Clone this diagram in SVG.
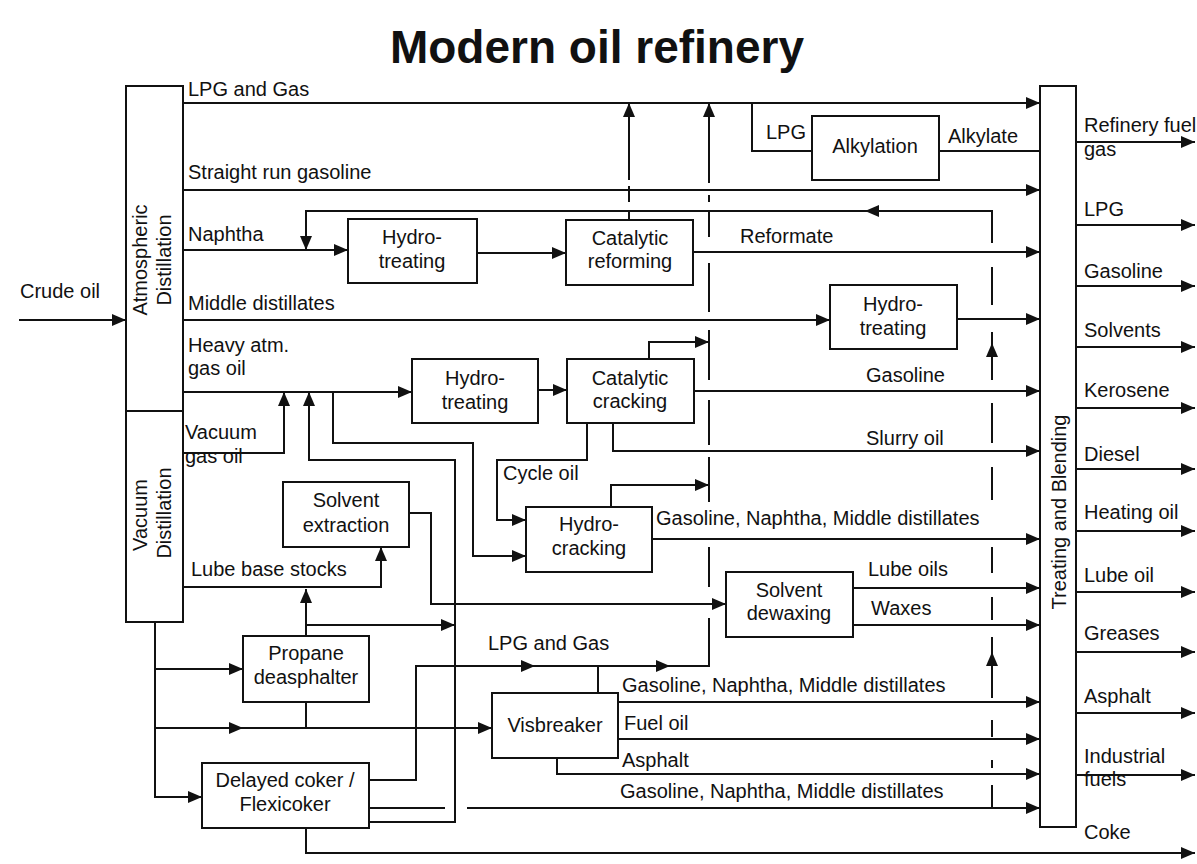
<svg xmlns="http://www.w3.org/2000/svg" width="1197" height="864" viewBox="0 0 1197 864">
<defs>
<marker id="ah" viewBox="0 0 14 12" refX="14" refY="6" markerWidth="14" markerHeight="12" markerUnits="userSpaceOnUse" orient="auto">
<path d="M0,0 L14,6 L0,12 z" fill="#111"/>
</marker>
<style>
.c{fill:none;stroke:#111;stroke-width:2}
.a{marker-end:url(#ah)}
.box{fill:#fff;stroke:#111;stroke-width:2}
text{font-family:"Liberation Sans",Arial,Helvetica,sans-serif;font-size:20px;fill:#111}
.m{text-anchor:middle}
.title{font-size:46px;font-weight:bold}
</style>
</defs>
<rect width="1197" height="864" fill="#fff"/>
<text class="title m" x="597" y="63">Modern oil refinery</text>

<g id="connectors">
<path class="c a" d="M19,320 H126"/>
<path class="c a" d="M183,103 H1040"/>
<path class="c a" d="M183,190 H1040"/>
<path class="c a" d="M183,250 H348"/>
<path class="c a" d="M992,243 V211 H865"/>
<path class="c a" d="M872,211 H306 V250"/>
<path class="c a" d="M477,253 H566"/>
<path class="c a" d="M693,252 H1040"/>
<path class="c a" d="M629,180 V103"/>
<path class="c" d="M629,186 V202 M629,212 V220"/>
<path class="c" d="M752,103 V151 H812"/>
<path class="c" d="M939,151 H1040"/>
<path class="c a" d="M183,320 H830"/>
<path class="c a" d="M957,319 H1040"/>
<path class="c a" d="M183,392 H412"/>
<path class="c a" d="M183,453 H284 V392"/>
<path class="c a" d="M369,822 H455 V460 H309 V392"/>
<path class="c a" d="M333,392 V443 H473 V556 H526"/>
<path class="c a" d="M538,390 H567"/>
<path class="c a" d="M694,391 H1040"/>
<path class="c a" d="M649,359 V342 H709"/>
<path class="c a" d="M587,423 V460 H497 V520 H526"/>
<path class="c a" d="M613,423 V451 H1040"/>
<path class="c a" d="M611,507 V485 H709"/>
<path class="c a" d="M652,539 H1040"/>
<path class="c a" d="M183,587 H381 V547"/>
<path class="c a" d="M409,513 H431 V604 H726"/>
<path class="c a" d="M853,588 H1040"/>
<path class="c a" d="M853,625 H1040"/>
<path class="c a" d="M155,622 V797 H202"/>
<path class="c a" d="M155,669 H243"/>
<path class="c a" d="M155,728 H243"/>
<path class="c a" d="M236,728 H492"/>
<path class="c a" d="M306,636 V589"/>
<path class="c a" d="M306,625 H455"/>
<path class="c" d="M306,702 V728"/>
<path class="c a" d="M369,780 H416 V666 H535"/>
<path class="c a" d="M528,666 H670"/>
<path class="c" d="M664,666 H709 V618"/>
<path class="c a" d="M709,183 V103"/>
<path class="c" d="M709,195 V202 M709,210 V237 M709,263 V312 M709,330 V380 M709,400 V445 M709,457 V502 M709,547 V587"/>
<path class="c" d="M992,267 V305 M992,332 V350"/>
<path class="c a" d="M992,380 V343"/>
<path class="c" d="M992,403 V443 M992,467 V500 M992,547 V573 M992,597 V620 M992,637 V656"/>
<path class="c a" d="M992,698 V652"/>
<path class="c" d="M992,720 V737 M992,760 V768 M992,785 V808"/>
<path class="c" d="M369,808 H445"/>
<path class="c a" d="M467,808 H1040"/>
<path class="c" d="M598,693 V666"/>
<path class="c a" d="M618,702 H1040"/>
<path class="c a" d="M618,739 H1040"/>
<path class="c a" d="M557,758 V774 H1040"/>
<path class="c a" d="M306,828 V853 H1195"/>
<path class="c a" d="M1076,142 H1195"/>
<path class="c a" d="M1076,225 H1195"/>
<path class="c a" d="M1076,286 H1195"/>
<path class="c a" d="M1076,347 H1195"/>
<path class="c a" d="M1076,408 H1195"/>
<path class="c a" d="M1076,469 H1195"/>
<path class="c a" d="M1076,531 H1195"/>
<path class="c a" d="M1076,592 H1195"/>
<path class="c a" d="M1076,652 H1195"/>
<path class="c a" d="M1076,713 H1195"/>
<path class="c a" d="M1076,775 H1195"/>
</g>

<g id="atmospheric-distillation">
<rect class="box" x="126" y="86" width="57" height="325"/>
<text class="m" transform="translate(147,260) rotate(-90)">Atmospheric</text>
<text class="m" transform="translate(171,260) rotate(-90)">Distillation</text>
</g>
<g id="vacuum-distillation">
<rect class="box" x="126" y="411" width="57" height="211"/>
<text class="m" transform="translate(147,515) rotate(-90)">Vacuum</text>
<text class="m" transform="translate(171,513) rotate(-90)">Distillation</text>
</g>
<g id="treating-blending">
<rect class="box" x="1040" y="86" width="36" height="741"/>
<text class="m" transform="translate(1066,512) rotate(-90)">Treating and Blending</text>
</g>
<g id="hydrotreating-1">
<rect class="box" x="348" y="219" width="129" height="64"/>
<text class="m" x="412" y="244">Hydro-</text>
<text class="m" x="412" y="268">treating</text>
</g>
<g id="catalytic-reforming">
<rect class="box" x="566" y="220" width="127" height="65"/>
<text class="m" x="630" y="245">Catalytic</text>
<text class="m" x="630" y="268">reforming</text>
</g>
<g id="alkylation">
<rect class="box" x="812" y="116" width="127" height="64"/>
<text class="m" x="875" y="153">Alkylation</text>
</g>
<g id="hydrotreating-3">
<rect class="box" x="830" y="285" width="127" height="64"/>
<text class="m" x="893" y="311">Hydro-</text>
<text class="m" x="893" y="335">treating</text>
</g>
<g id="hydrotreating-2">
<rect class="box" x="412" y="359" width="126" height="64"/>
<text class="m" x="475" y="385">Hydro-</text>
<text class="m" x="475" y="409">treating</text>
</g>
<g id="catalytic-cracking">
<rect class="box" x="567" y="359" width="127" height="64"/>
<text class="m" x="630" y="385">Catalytic</text>
<text class="m" x="630" y="408">cracking</text>
</g>
<g id="hydrocracking">
<rect class="box" x="526" y="507" width="126" height="65"/>
<text class="m" x="589" y="531">Hydro-</text>
<text class="m" x="589" y="555">cracking</text>
</g>
<g id="solvent-extraction">
<rect class="box" x="283" y="482" width="126" height="65"/>
<text class="m" x="346" y="507">Solvent</text>
<text class="m" x="346" y="532">extraction</text>
</g>
<g id="solvent-dewaxing">
<rect class="box" x="726" y="572" width="127" height="65"/>
<text class="m" x="789" y="597">Solvent</text>
<text class="m" x="789" y="620">dewaxing</text>
</g>
<g id="propane-deasphalter">
<rect class="box" x="243" y="636" width="126" height="66"/>
<text class="m" x="306" y="660">Propane</text>
<text class="m" x="306" y="684">deasphalter</text>
</g>
<g id="visbreaker">
<rect class="box" x="492" y="693" width="126" height="65"/>
<text class="m" x="555" y="732">Visbreaker</text>
</g>
<g id="delayed-coker">
<rect class="box" x="202" y="763" width="167" height="65"/>
<text class="m" x="285" y="787">Delayed coker /</text>
<text class="m" x="285" y="811">Flexicoker</text>
</g>

<g id="labels">
<text x="20" y="298">Crude oil</text>
<text x="188" y="96">LPG and Gas</text>
<text x="188" y="179">Straight run gasoline</text>
<text x="188" y="241">Naphtha</text>
<text x="188" y="310">Middle distillates</text>
<text x="188" y="352">Heavy atm.</text>
<text x="188" y="375">gas oil</text>
<text x="185" y="439">Vacuum</text>
<text x="185" y="463">gas oil</text>
<text x="191" y="576">Lube base stocks</text>
<text x="740" y="243">Reformate</text>
<text x="766" y="139">LPG</text>
<text x="948" y="143">Alkylate</text>
<text x="866" y="382">Gasoline</text>
<text x="866" y="445">Slurry oil</text>
<text x="503" y="480">Cycle oil</text>
<text x="656" y="525">Gasoline, Naphtha, Middle distillates</text>
<text x="868" y="576">Lube oils</text>
<text x="871" y="615">Waxes</text>
<text x="488" y="650">LPG and Gas</text>
<text x="622" y="692">Gasoline, Naphtha, Middle distillates</text>
<text x="624" y="730">Fuel oil</text>
<text x="622" y="767">Asphalt</text>
<text x="620" y="798">Gasoline, Naphtha, Middle distillates</text>
<text x="1084" y="132">Refinery fuel</text>
<text x="1084" y="156">gas</text>
<text x="1084" y="216">LPG</text>
<text x="1084" y="278">Gasoline</text>
<text x="1084" y="337">Solvents</text>
<text x="1084" y="397">Kerosene</text>
<text x="1084" y="461">Diesel</text>
<text x="1084" y="519">Heating oil</text>
<text x="1084" y="582">Lube oil</text>
<text x="1084" y="640">Greases</text>
<text x="1084" y="703">Asphalt</text>
<text x="1084" y="763">Industrial</text>
<text x="1084" y="786">fuels</text>
<text x="1084" y="839">Coke</text>
</g>
</svg>
